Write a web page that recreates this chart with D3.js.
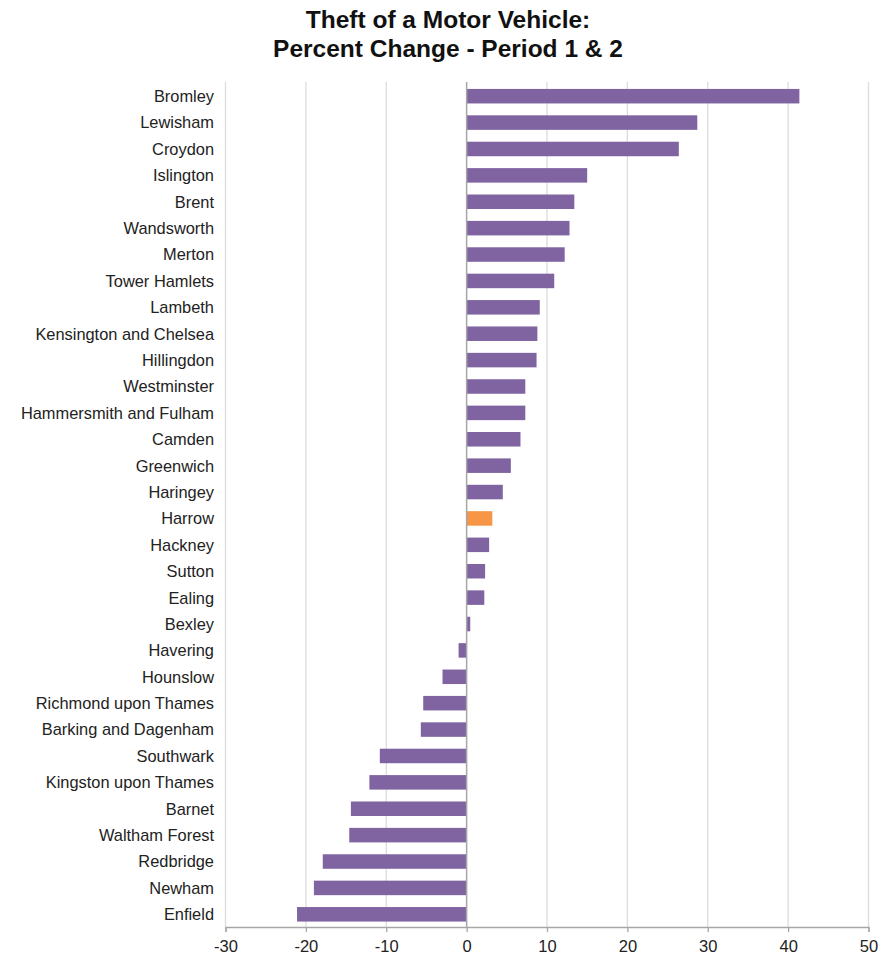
<!DOCTYPE html>
<html>
<head>
<meta charset="utf-8">
<script src="https://cdn.jsdelivr.net/npm/d3@7"></script>
<style>
  body { margin: 0; background: #fff; }
  svg { font-family: "Liberation Sans", Arial, sans-serif; }
</style>
</head>
<body>
<svg id="chart" width="892" height="954"></svg>
<script>
// boroughs, top to bottom
const boroughs = ["Bromley", "Lewisham", "Croydon", "Islington", "Brent", "Wandsworth", "Merton",
  "Tower Hamlets", "Lambeth", "Kensington and Chelsea", "Hillingdon", "Westminster",
  "Hammersmith and Fulham", "Camden", "Greenwich", "Haringey", "Harrow", "Hackney", "Sutton",
  "Ealing", "Bexley", "Havering", "Hounslow", "Richmond upon Thames", "Barking and Dagenham",
  "Southwark", "Kingston upon Thames", "Barnet", "Waltham Forest", "Redbridge", "Newham", "Enfield"];
const pctChange = [41.4, 28.7, 26.4, 15.0, 13.4, 12.8, 12.2,
  10.9, 9.1, 8.8, 8.7, 7.3,
  7.3, 6.7, 5.5, 4.5, 3.2, 2.8, 2.3,
  2.2, 0.45, -1.0, -3.0, -5.4, -5.7,
  -10.8, -12.1, -14.4, -14.6, -17.9, -19.0, -21.1];
const highlight = "Harrow";
const xTicks = [-30, -20, -10, 0, 10, 20, 30, 40, 50];
const titleLines = ["Theft of a Motor Vehicle:", "Percent Change - Period 1 & 2"];

const data = boroughs.map((b, i) => ({name: b, value: pctChange[i]}));

const svg = d3.select("#chart");
const plotTop = 82, plotBottom = 927;

const x = d3.scaleLinear().domain([-30, 50]).range([225.5, 868.5]);
const y = d3.scaleBand().domain(boroughs).range([83, 927.5])
  .paddingInner(0.45).paddingOuter(0.225);

// title
svg.append("g").selectAll("text")
  .data(titleLines)
  .join("text")
  .attr("x", 448)
  .attr("y", (d, i) => 28 + i * 29)
  .attr("text-anchor", "middle")
  .attr("font-size", 24.5)
  .attr("font-weight", "bold")
  .attr("fill", "#111")
  .text(d => d);

// gridlines
svg.append("g").selectAll("line")
  .data(xTicks.filter(t => t !== 0))
  .join("line")
  .attr("x1", d => x(d)).attr("x2", d => x(d))
  .attr("y1", plotTop).attr("y2", plotBottom)
  .attr("stroke", "#dcdcdc")
  .attr("stroke-width", 1.3);

// bars
svg.append("g").selectAll("rect")
  .data(data)
  .join("rect")
  .attr("x", d => x(Math.min(0, d.value)))
  .attr("width", d => Math.abs(x(d.value) - x(0)))
  .attr("y", d => y(d.name))
  .attr("height", y.bandwidth())
  .attr("fill", d => d.name === highlight ? "#f79646" : "#8064a2");

// zero line
svg.append("line")
  .attr("x1", x(0)).attr("x2", x(0))
  .attr("y1", plotTop).attr("y2", plotBottom)
  .attr("stroke", "#a6a6a6")
  .attr("stroke-width", 1.5);

// x axis (plain hyphen for negatives, like the original)
const xAxis = d3.axisBottom(x).tickValues(xTicks).tickFormat(d => String(d))
  .tickSize(5).tickPadding(8);
const gx = svg.append("g")
  .attr("transform", `translate(0,${plotBottom})`)
  .call(xAxis);
gx.select(".domain").attr("stroke", "#a6a6a6").attr("stroke-width", 1.3);
gx.selectAll(".tick line").attr("stroke", "#a6a6a6").attr("stroke-width", 1.3);
gx.selectAll(".tick text")
  .attr("font-size", 16.5)
  .attr("fill", "#222")
  .attr("font-family", "Liberation Sans, Arial, sans-serif");

// category labels
svg.append("g").selectAll("text")
  .data(boroughs)
  .join("text")
  .attr("x", 214)
  .attr("y", d => y(d) + y.bandwidth() / 2)
  .attr("dy", "0.36em")
  .attr("text-anchor", "end")
  .attr("font-size", 16.4)
  .attr("fill", "#222")
  .text(d => d);
</script>
</body>
</html>
